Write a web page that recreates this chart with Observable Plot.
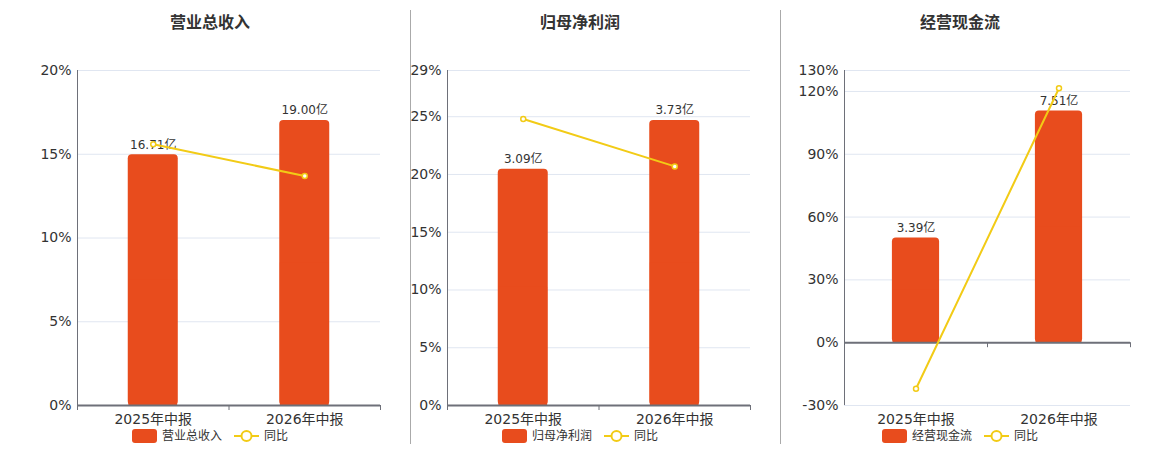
<!DOCTYPE html>
<html><head><meta charset="utf-8">
<script src="https://cdn.jsdelivr.net/npm/d3@7"></script>
<script src="https://cdn.jsdelivr.net/npm/@observablehq/plot@0.6"></script>
<style>
body{margin:0;background:#fff;font-family:"DejaVu Sans","Noto Sans CJK SC",sans-serif;}
#root{position:relative;width:1160px;height:450px;overflow:hidden;}
.abs{position:absolute;}
.title{top:12px;width:240px;text-align:center;font-weight:bold;font-size:16px;color:#333;line-height:22px;}
.sep{top:10px;width:1px;height:434px;background:#aaa;z-index:5;}
.legend{top:428px;width:300px;display:flex;justify-content:center;align-items:center;font-size:12px;color:#333;line-height:16px;}
.sw{display:inline-block;width:25px;height:14px;border-radius:3px;margin-right:5px;}
</style>
</head><body><div id="root"></div>
<script>
const periods = ["2025年中报", "2026年中报"];
const titles = ["营业总收入", "归母净利润", "经营现金流"];
const revenue = [16.71, 19.00];
const revenueYoY = [15.6, 13.7];
const profit = [3.09, 3.73];
const profitYoY = [24.8, 20.7];
const cash = [3.39, 7.51];
const cashYoY = [-22.0, 121.5];
const ticks1 = [0, 5, 10, 15, 20];
const ticks2 = [0, 5, 10, 15, 20, 25, 29];
const ticks3 = [-30, 0, 30, 60, 90, 120, 130];

const barColor = "#E84C1D", lineColor = "#F2CB16";
const root = document.getElementById("root");

const panels = [
  {title: titles[0], bars: revenue, yoy: revenueYoY, ticks: ticks1, left: 0, width: 400, ml: 77, center: 210},
  {title: titles[1], bars: profit, yoy: profitYoY, ticks: ticks2, left: 410, width: 360, ml: 37, center: 580},
  {title: titles[2], bars: cash, yoy: cashYoY, ticks: ticks3, left: 780, width: 370, ml: 64, center: 960}
];

panels.forEach(p => {
  const yMin = d3.min(p.ticks), yMax = d3.max(p.ticks);
  const k = yMax / (d3.max(p.bars) * 1.175);
  const rows = periods.map((name, i) => ({name, i, c: i + 0.5, v: p.bars[i], yb: p.bars[i] * k, yoy: p.yoy[i]}));
  const hw = 0.165;
  const chart = Plot.plot({
    width: p.width, height: 370,
    marginTop: 10, marginBottom: 25, marginLeft: p.ml, marginRight: 20,
    style: {fontFamily: "DejaVu Sans, Noto Sans CJK SC, sans-serif", fontSize: "14px", color: "#333", background: "transparent"},
    x: {domain: [0, 2], label: null},
    y: {domain: [yMin, yMax], label: null},
    marks: [
      Plot.gridY(p.ticks, {stroke: "#e0e6f1", strokeOpacity: 1}),
      Plot.axisY(p.ticks, {tickSize: 0, tickPadding: 6, tickFormat: d => d + "%", fontSize: 14, fill: "#333", label: null}),
      Plot.axisX([0.5, 1.5], {tickSize: 0, tickPadding: 9, tickFormat: d => periods[Math.floor(d)], fontSize: 14, fill: "#333", label: null}),
      Plot.rectY(rows, {x1: d => d.c - hw, x2: d => d.c + hw, y1: 0, y2: "yb", fill: barColor, rx: 4}),
      Plot.rectY(rows, {x1: d => d.c - hw, x2: d => d.c + hw, y1: 0, y2: d => d.yb / 2, fill: barColor, insetLeft: 0.6, insetRight: 0.6}),
      Plot.ruleX([0], {y1: yMin, y2: yMax, stroke: "#6e7079"}),
      Plot.ruleY([0], {stroke: "#6e7079", strokeWidth: 2}),
      Plot.ruleX([0, 1, 2], {y1: 0, y2: 0, insetBottom: -5, stroke: "#6e7079"}),
      Plot.text(rows, {x: "c", y: "yb", text: d => d.v.toFixed(2) + "亿", dy: -10, fontSize: 12, fill: "#333"}),
      Plot.line(rows, {x: "c", y: "yoy", stroke: lineColor, strokeWidth: 2}),
      Plot.dot(rows, {x: "c", y: "yoy", r: 2.5, fill: "#fff", stroke: lineColor, strokeWidth: 1.5})
    ]
  });
  const holder = document.createElement("div");
  holder.className = "abs";
  holder.style.left = p.left + "px";
  holder.style.top = "60px";
  holder.appendChild(chart);
  root.appendChild(holder);

  const t = document.createElement("div");
  t.className = "abs title";
  t.style.left = (p.center - 120) + "px";
  t.textContent = p.title;
  root.appendChild(t);

  const lg = document.createElement("div");
  lg.className = "abs legend";
  lg.style.left = (p.center - 150) + "px";
  lg.innerHTML = `<span class="sw" style="background:${barColor}"></span><span>${p.title}</span>` +
    `<svg width="25" height="14" style="margin:0 5px 0 12px"><line x1="0" y1="7" x2="25" y2="7" stroke="${lineColor}" stroke-width="2"/><circle cx="12.5" cy="7" r="5" fill="#fff" stroke="${lineColor}" stroke-width="2"/></svg><span>同比</span>`;
  root.appendChild(lg);
});

[410, 780].forEach(x => {
  const s = document.createElement("div");
  s.className = "abs sep";
  s.style.left = x + "px";
  root.appendChild(s);
});
</script>
</body></html>
